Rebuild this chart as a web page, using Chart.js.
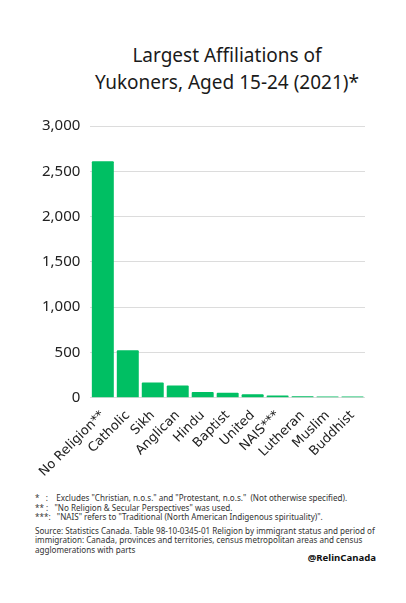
<!DOCTYPE html>
<html>
<head>
<meta charset="utf-8">
<script src="https://cdn.jsdelivr.net/npm/chart.js@4"></script>
<style>
  html, body { margin: 0; padding: 0; background: #fff; }
  body { width: 406px; height: 603px; position: relative; overflow: hidden; font-family: 'Noto Sans', sans-serif; color: #222; }
  .title { position: absolute; top: 42px; left: 47px; width: 360px; text-align: center; font-size: 19px; line-height: 27px; color: #1a1a1a; }
  .chart-box { position: absolute; left: 0; top: 0; width: 406px; height: 482px; }
  .notes { position: absolute; left: 35px; top: 493px; width: 350px; font-size: 8.1px; line-height: 9.5px; color: #333; }
  .notes .src { margin-top: 4px; }
  .handle { position: absolute; right: 30px; top: 551px; font-size: 9.6px; font-weight: bold; color: #111; }
</style>
</head>
<body>
<div class="title">Largest Affiliations of<br>Yukoners, Aged 15-24 (2021)*</div>
<div class="chart-box"><canvas id="chart" width="406" height="482"></canvas></div>
<div class="notes">
  <div>*&nbsp;&nbsp;&nbsp;:&nbsp;&nbsp;&nbsp;&nbsp;Excludes "Christian, n.o.s." and "Protestant, n.o.s."&nbsp; (Not otherwise specified).</div>
  <div>**&nbsp;:&nbsp;&nbsp;&nbsp;"No Religion &amp; Secular Perspectives" was used.</div>
  <div>***:&nbsp;&nbsp;&nbsp;"NAIS" refers to "Traditional (North American Indigenous spirituality)".</div>
  <div class="src">Source: Statistics Canada. Table 98-10-0345-01 Religion by immigrant status and period of immigration: Canada, provinces and territories, census metropolitan areas and census agglomerations with parts</div>
</div>
<div class="handle">@RelinCanada</div>
<script>
const categories = ['No Religion**', 'Catholic', 'Sikh', 'Anglican', 'Hindu', 'Baptist', 'United', 'NAIS***', 'Lutheran', 'Muslim', 'Buddhist']
const counts = [2610, 525, 170, 135, 65, 55, 40, 25, 18, 15, 15]
const yTicks = [0, 500, 1000, 1500, 2000, 2500, 3000]

const barColor = '#00BF63'

new Chart(document.getElementById('chart'), {
  type: 'bar',
  data: {
    labels: categories,
    datasets: [{
      data: counts,
      backgroundColor: barColor,
      borderRadius: 1,
      barPercentage: 0.88,
      categoryPercentage: 1
    }]
  },
  options: {
    responsive: false,
    animation: false,
    layout: { padding: { top: 126, left: 32, right: 41, bottom: 0 } },
    plugins: {
      legend: { display: false },
      title: { display: false },
      tooltip: { enabled: false }
    },
    scales: {
      x: {
        grid: { display: false },
        border: { display: false },
        ticks: {
          minRotation: 45,
          maxRotation: 45,
          autoSkip: false,
          padding: 2,
          color: '#222',
          font: { family: 'DejaVu Sans', size: 13 }
        }
      },
      y: {
        min: 0,
        max: yTicks[yTicks.length - 1],
        afterBuildTicks: axis => { axis.ticks = yTicks.map(v => ({ value: v })) },
        grid: { color: '#dcdcdc', drawTicks: false },
        border: { display: false },
        ticks: {
          padding: 10,
          color: '#222',
          font: { family: 'Noto Sans', size: 15 },
          callback: v => v.toLocaleString('en-US')
        }
      }
    }
  }
})
</script>
</body>
</html>
